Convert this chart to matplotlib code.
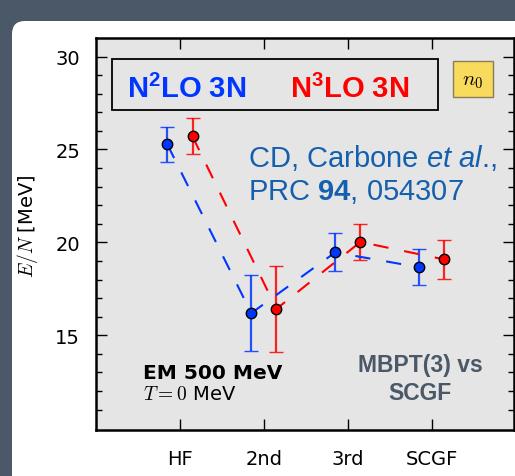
import matplotlib
matplotlib.use("Agg")
import matplotlib.pyplot as plt
from matplotlib.patches import FancyBboxPatch, Rectangle
from matplotlib.transforms import IdentityTransform
from matplotlib.colors import to_rgba

plt.rcParams['mathtext.fontset'] = 'cm'
plt.rcParams['mathtext.rm'] = 'Liberation Sans'
plt.rcParams['mathtext.it'] = 'Liberation Sans:italic'
plt.rcParams['mathtext.bf'] = 'Liberation Sans:bold'

# many-body level, energy per particle and its uncertainty
niveaux = ['HF', '2nd', '3rd', 'SCGF']
en_n2lo = [25.27, 16.19, 19.46, 18.66]
err_n2lo = [0.94, 2.04, 1.02, 0.97]
en_n3lo = [25.70, 16.42, 20.02, 19.08]
err_n3lo = [0.97, 2.30, 0.98, 1.04]

slate = '#4a5867'
plava = '#0036ff'
crvena = '#ff0000'

fig = plt.figure(figsize=(5.15, 4.77), dpi=100, facecolor=slate)

# white rounded card behind the plot
karta = FancyBboxPatch((12, -20), 560, 475, boxstyle='round,pad=0,rounding_size=13',
                       transform=IdentityTransform(), facecolor='white',
                       edgecolor='none', zorder=-1)
fig.add_artist(karta)

ax = fig.add_axes([96/515, 1-431/477, 418/515, 392/477])
ax.set_facecolor('#e5e5e5')

x = list(range(len(niveaux)))
pomak = 0.15
for vrijed, greske, boja, dx in [(en_n2lo, err_n2lo, plava, -pomak),
                                (en_n3lo, err_n3lo, crvena, pomak)]:
    ax.errorbar([xi + dx for xi in x], vrijed, yerr=greske, fmt='o', ls='--',
                dashes=(7.3, 7.7), color=boja, lw=1.5, ms=7.5, mfc=boja, mec='black',
                mew=1.0, ecolor=to_rgba(boja, 0.85), elinewidth=1.6, capsize=5,
                capthick=1.6)

ax.set_xlim(-1, 3.98)
ax.set_ylim(9.9, 31)
ax.set_xticks(x)
ax.set_xticklabels(niveaux)
ax.set_yticks([15, 20, 25, 30])
ax.set_yticks(list(range(11, 31)), minor=True)
ax.tick_params(which='both', direction='in', top=True, right=True, labelsize=14, pad=11.5)
ax.tick_params(axis='x', pad=13.5)
ax.tick_params(which='major', length=8, width=1.0)
ax.tick_params(which='minor', length=4.5, width=1.0)
ax.tick_params(axis='x', which='minor', top=False, bottom=False)
for s in ax.spines.values():
    s.set_linewidth(1.8)

fig.text(28/515, 1-226/477, r'$E/N$ [MeV]', rotation=90, ha='center', va='center',
         fontsize=14)

# legend frame with the two chiral orders
ax.add_patch(Rectangle((0.038, 0.816), 0.78, 0.13, transform=ax.transAxes,
                       facecolor='#e5e5e5', edgecolor='black', lw=1.3))
ax.text(0.218, 0.849, r'N$^{\mathbf{2}}$LO 3N', transform=ax.transAxes, ha='center',
        va='baseline', color=plava, fontsize=21, fontweight='bold',
        family='Liberation Sans', math_fontfamily='custom')
ax.text(0.608, 0.849, r'N$^{\mathbf{3}}$LO 3N', transform=ax.transAxes, ha='center',
        va='baseline', color=crvena, fontsize=21, fontweight='bold',
        family='Liberation Sans', math_fontfamily='custom')

ax.add_patch(Rectangle((0.854, 0.849), 0.096, 0.092, transform=ax.transAxes,
                       facecolor='#f8da5c', edgecolor='#8a7c58', lw=1.0))
ax.text(0.902, 0.893, r'$n_0$', transform=ax.transAxes, ha='center', va='center',
        fontsize=15)

ref_boja = '#1560ae'
ax.text(0.364, 0.673, r'CD, Carbone $\mathit{et\ al}$.,', transform=ax.transAxes,
        color=ref_boja, fontsize=21, family='Liberation Sans', math_fontfamily='custom')
ax.text(0.364, 0.589, r'PRC $\mathbf{94}$, 054307', transform=ax.transAxes,
        color=ref_boja, fontsize=21, family='Liberation Sans', math_fontfamily='custom')

ax.text(0.1124, 0.133, 'EM 500 MeV', transform=ax.transAxes, fontsize=14.5,
        fontweight='bold')
ax.text(0.1124, 0.079, r'$T=0$ MeV', transform=ax.transAxes, fontsize=14)

ax.text(0.775, 0.1505, 'MBPT(3) vs', transform=ax.transAxes, ha='center',
        color=slate, fontsize=16.5, fontweight='bold', family='Liberation Sans')
ax.text(0.775, 0.079, 'SCGF', transform=ax.transAxes, ha='center',
        color=slate, fontsize=16.5, fontweight='bold', family='Liberation Sans')

fig.savefig('out.png', dpi=100, facecolor=slate)
